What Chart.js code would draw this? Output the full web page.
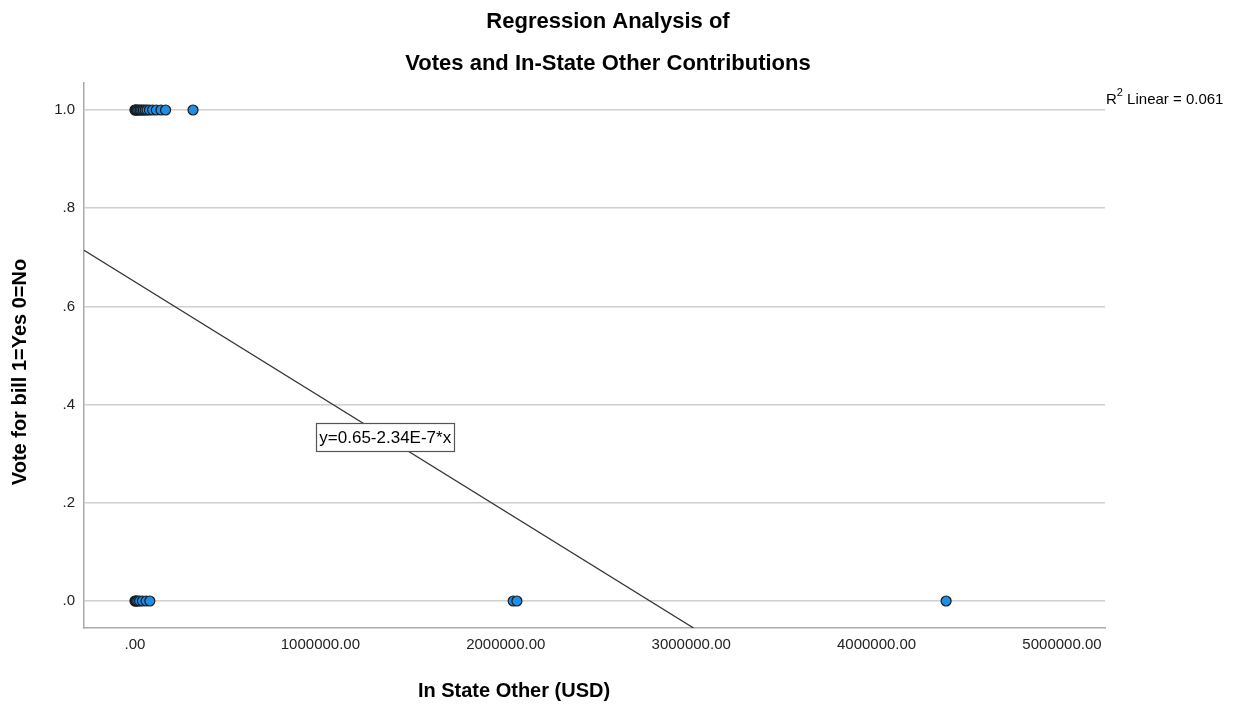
<!DOCTYPE html>
<html>
<head>
<meta charset="utf-8">
<title>Regression Analysis of Votes and In-State Other Contributions</title>
<script src="https://cdn.jsdelivr.net/npm/chart.js@4/dist/chart.umd.min.js"></script>
<style>
  html, body { margin: 0; padding: 0; background: #fff; }
  #wrap { width: 1238px; height: 704px; }
</style>
</head>
<body>
<div id="wrap"><canvas id="c" width="1238" height="704"></canvas></div>
<script>
// In-state "other" contributions (USD) for legislators who voted Yes (1) and No (0)
const yesContrib = [0, 2000, 6000, 12000, 20000, 28000, 36000, 45000, 55000, 65000, 78000, 95000, 115000, 140000, 165000, 313000];
const noContrib = [0, 3000, 8000, 15000, 25000, 40000, 60000, 80000, 2040000, 2060000, 4375000];
const yesVote = 1;
const noVote = 0;

// Fitted linear model
const intercept = 0.65;
const slope = -2.34e-7;
const rSquared = 0.061;

// Axis ticks
const xTicks = [0, 1000000, 2000000, 3000000, 4000000, 5000000];
const yTicks = [0, 0.2, 0.4, 0.6, 0.8, 1.0];
const xRange = [-275000, 5232000];
const yRange = [-0.055, 1.055];

const FONT = 'Arial, "Liberation Sans", sans-serif';

const yesPoints = yesContrib.map(v => ({ x: v, y: yesVote }));
const noPoints = noContrib.map(v => ({ x: v, y: noVote }));
const fitLine = [
  { x: xRange[0], y: intercept + slope * xRange[0] },
  { x: (intercept - yRange[0]) / -slope, y: yRange[0] }
];

function fmtX(v) { return v === 0 ? '.00' : v.toFixed(2); }
function fmtY(v) { return v.toFixed(1).replace(/^0/, ''); }

const annotations = {
  id: 'annotations',
  afterDraw(chart) {
    const ctx = chart.ctx;
    const xs = chart.scales.x, ys = chart.scales.y;
    ctx.save();
    ctx.fillStyle = '#000';
    ctx.textAlign = 'center';
    ctx.textBaseline = 'middle';
    ctx.font = 'bold 22px ' + FONT;
    ctx.fillText('Regression Analysis of', 608, 22);
    ctx.fillText('Votes and In-State Other Contributions', 608, 64);

    // axis titles
    ctx.font = 'bold 20px ' + FONT;
    ctx.fillText('In State Other (USD)', 514, 691);
    ctx.save();
    ctx.translate(20, 372);
    ctx.rotate(-Math.PI / 2);
    ctx.fillText('Vote for bill 1=Yes 0=No', 0, 0);
    ctx.restore();

    // equation label on the fit line
    const lx = 1350000;
    const px = xs.getPixelForValue(lx);
    const py = ys.getPixelForValue(intercept + slope * lx);
    const eq = 'y=' + intercept.toFixed(2) + '-' + Math.abs(slope / 1e-7).toFixed(2) + 'E-7*x';
    ctx.font = '17px ' + FONT;
    const w = ctx.measureText(eq).width + 6;
    const h = 28;
    const bx = Math.round(px - w / 2) + 0.5, by = Math.round(py - h / 2) + 0.5;
    ctx.fillStyle = '#fff';
    ctx.fillRect(bx, by, Math.round(w), h);
    ctx.strokeStyle = '#555';
    ctx.lineWidth = 1.2;
    ctx.strokeRect(bx, by, Math.round(w), h);
    ctx.fillStyle = '#000';
    ctx.fillText(eq, px, py + 1);

    // R squared
    ctx.textAlign = 'left';
    ctx.font = '15px ' + FONT;
    ctx.fillText('R', 1106, 100);
    const rw = ctx.measureText('R').width;
    ctx.font = '11px ' + FONT;
    ctx.fillText('2', 1106 + rw, 93);
    const sw = ctx.measureText('2').width;
    ctx.font = '15px ' + FONT;
    ctx.fillText(' Linear = ' + rSquared.toFixed(3), 1106 + rw + sw, 100);
    ctx.restore();
  }
};

new Chart(document.getElementById('c'), {
  type: 'scatter',
  data: {
    datasets: [
      {
        type: 'line',
        label: 'Linear fit',
        data: fitLine,
        borderColor: '#333',
        borderWidth: 1.3,
        pointRadius: 0,
        fill: false,
        order: 2
      },
      {
        label: 'Yes',
        data: yesPoints,
        backgroundColor: '#1f8ee6',
        borderColor: '#1a1a1a',
        borderWidth: 1.2,
        pointRadius: 5,
        order: 1
      },
      {
        label: 'No',
        data: noPoints,
        backgroundColor: '#1f8ee6',
        borderColor: '#1a1a1a',
        borderWidth: 1.2,
        pointRadius: 5,
        order: 1
      }
    ]
  },
  options: {
    responsive: false,
    animation: false,
    layout: { padding: { left: 0, top: 83, right: 133, bottom: 0 } },
    plugins: {
      legend: { display: false },
      tooltip: { enabled: false },
      title: { display: false }
    },
    scales: {
      x: {
        type: 'linear',
        min: xRange[0],
        max: xRange[1],
        afterBuildTicks(s) { s.ticks = xTicks.map(v => ({ value: v })); },
        afterFit(s) { s.height = 76; },
        ticks: {
          callback: v => fmtX(v),
          color: '#222',
          font: { family: FONT, size: 15 },
          padding: 8,
          maxRotation: 0,
          autoSkip: false
        },
        grid: { display: false, drawTicks: false },
        border: { display: true, color: '#aaa', width: 1.5 }
      },
      y: {
        type: 'linear',
        min: yRange[0],
        max: yRange[1],
        afterBuildTicks(s) { s.ticks = yTicks.map(v => ({ value: v })); },
        afterFit(s) { s.width = 84; },
        ticks: {
          callback: v => fmtY(v),
          color: '#222',
          font: { family: FONT, size: 15 },
          padding: 9
        },
        grid: { color: '#cfcfcf', lineWidth: 1.5, drawTicks: false },
        border: { display: true, color: '#aaa', width: 1.5 }
      }
    }
  },
  plugins: [annotations]
});
</script>
</body>
</html>
